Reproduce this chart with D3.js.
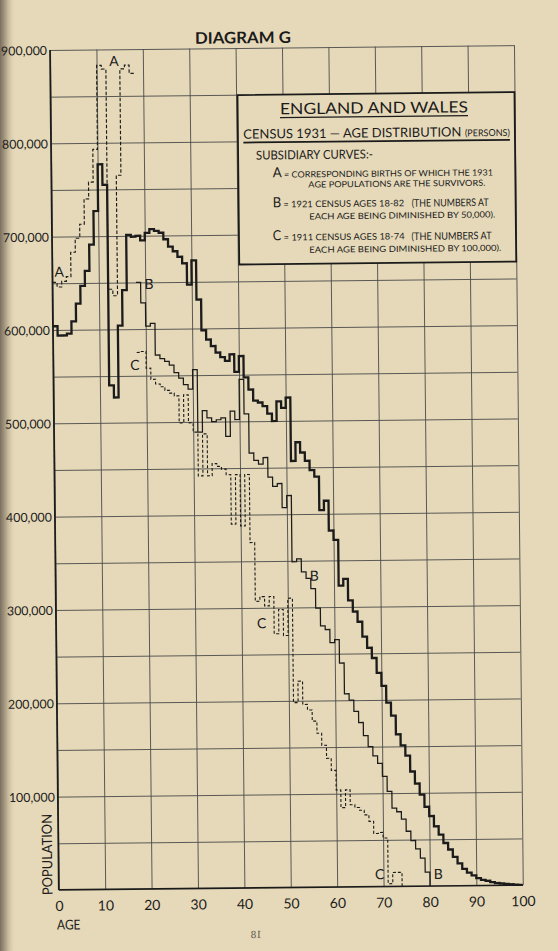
<!DOCTYPE html>
<html lang="en">
<head>
<meta charset="utf-8">
<title>Diagram G</title>
<script src="https://cdn.jsdelivr.net/npm/d3@7"></script>
<style>
  html, body { margin: 0; padding: 0; background: #e6d9b9; overflow: hidden; }
  #chart svg { display: block; }
  .lbl { font-family: Lato, 'DejaVu Sans', sans-serif; fill: #1b1b1b; }
</style>
</head>
<body>
<div id="chart"></div>
<script>
// England and Wales, census 1931, numbers at each age (thousands)
const pop1931Start = 0;
const pop1931 = [
  604, 594, 594, 596, 609, 628, 647, 663, 691, 727,
  777, 755, 540, 527, 604, 642, 701, 699, 700, 695,
  703, 707, 705, 703, 696, 688, 683, 677, 670, 647,
  673, 631, 598, 588, 581, 574, 569, 565, 572, 553,
  570, 547, 534, 522, 520, 516, 508, 500, 521, 514,
  525, 457, 477, 466, 457, 447, 440, 404, 414, 382,
  372, 323, 330, 307, 295, 284, 268, 256, 245, 229,
  215, 197, 183, 163, 151, 140, 123, 110, 98, 85,
  75, 64, 55, 46, 39, 31, 24, 18, 14, 11,
  8, 6, 5, 3.5, 2.5, 2, 1.5, 1, 0.6, 0.3
];

// A: corresponding births of which the 1931 age populations are the survivors
const birthsAStart = 0;
const birthsA = [651, 646, 652, 657, 683, 698, 713, 740, 758, 793, 883, 879, 643, 636, 765, 879, 883, 874];

// B: 1921 census ages 18-82, each age less 50,000
const census1921Start = 18;
const census1921B = [
  650, 628, 603, 606, 572, 568, 565, 561, 553, 547,
  540, 535, 556, 489, 512, 504, 500, 502, 504, 484,
  511, 502, 545, 508, 466, 458, 454, 461, 440, 430,
  433, 407, 420, 349, 352, 338, 331, 320, 299, 280,
  276, 262, 265, 240, 207, 200, 188, 176, 162, 150,
  140, 132, 118, 102, 84, 80, 72, 59, 49, 40,
  30, 15, 0
];

// C: 1911 census ages 18-74, each age less 100,000
const census1911Start = 18;
const census1911C = [
  575, 576, 558, 546, 541, 538, 534, 531, 528, 499,
  529, 499, 489, 442, 487, 442, 455, 452, 449, 443,
  390, 443, 388, 443, 370, 307, 312, 302, 312, 272,
  298, 270, 310, 198, 221, 196, 190, 178, 165, 152,
  138, 125, 104, 85, 104, 88, 85, 82, 77, 70,
  57, 58, 52, 3, 15, 15, 0
];

const xTicks = [0, 10, 20, 30, 40, 50, 60, 70, 80, 90, 100];
const yGrid = [50, 100, 150, 200, 250, 300, 350, 400, 450, 500, 550, 600, 650, 700, 750, 800, 850, 900];
const yLabels = [100, 200, 300, 400, 500, 600, 700, 800, 900];

const width = 558, height = 951;
const W = 464, H = 840;
const paper = '#e6d9b9';
const ink = '#1b1b1b';

const svg = d3.select('#chart').append('svg')
    .attr('width', width)
    .attr('height', height);

// paper and the dark book gutter on the left
const defs = svg.append('defs');
const gutter = defs.append('linearGradient').attr('id', 'gutter').attr('x1', 0).attr('x2', 1);
gutter.append('stop').attr('offset', 0).attr('stop-color', '#7a6f60');
gutter.append('stop').attr('offset', 0.4).attr('stop-color', '#b5a88d');
gutter.append('stop').attr('offset', 1).attr('stop-color', paper).attr('stop-opacity', 0);

svg.append('rect').attr('width', width).attr('height', height).attr('fill', paper);
svg.append('rect').attr('width', 16).attr('height', height).attr('fill', 'url(#gutter)');

// the printed page sits a little askew in the scan
const g = svg.append('g').attr('transform', 'translate(50,50) rotate(-0.6)');

const x = d3.scaleLinear().domain([0, 100]).range([0, W]);
const y = d3.scaleLinear().domain([0, 900]).range([H, 0]);
const fmt = d3.format(',');

// horizontal grid + population labels
const yAxis = d3.axisLeft(y)
    .tickValues(yGrid)
    .tickSize(-W)
    .tickPadding(3)
    .tickFormat(d => yLabels.includes(d) ? fmt(d * 1000) : '');

const yG = g.append('g').attr('class', 'y-axis').call(yAxis);
yG.select('.domain').remove();
yG.selectAll('line').attr('stroke', '#4a4a4a').attr('stroke-width', 0.9);
yG.selectAll('text')
    .attr('class', 'lbl')
    .attr('font-size', 12.4)
    .attr('dy', '0.36em')
    .attr('fill', ink);

// vertical grid + age labels
const xAxis = d3.axisBottom(x)
    .tickValues(xTicks)
    .tickSize(-H)
    .tickFormat(d => d);

const xG = g.append('g').attr('class', 'x-axis').attr('transform', `translate(0,${H})`).call(xAxis);
xG.select('.domain').remove();
xG.selectAll('line').attr('stroke', '#4a4a4a').attr('stroke-width', 0.9);
xG.selectAll('text')
    .attr('class', 'lbl')
    .attr('font-size', 14)
    .attr('y', 21)
    .attr('dy', null)
    .attr('fill', ink);

// axes proper
g.append('line')
    .attr('x1', x(0)).attr('x2', x(0))
    .attr('y1', y(900)).attr('y2', y(0))
    .attr('stroke', ink).attr('stroke-width', 1.7);
g.append('line')
    .attr('x1', x(0)).attr('x2', x(100))
    .attr('y1', y(0)).attr('y2', y(0))
    .attr('stroke', ink).attr('stroke-width', 1.7);

// step curves, one step per year of age
function steps(start, values) {
    const pts = values.map((v, i) => ({ age: start + i, v: v }));
    const last = values[values.length - 1];
    if (last > 0) pts.push({ age: start + values.length, v: last });
    return pts;
}

const stepLine = d3.line()
    .x(d => x(d.age))
    .y(d => y(Math.max(0, d.v)))
    .curve(d3.curveStepAfter);

const curves = [
    { id: 'A', data: steps(birthsAStart, birthsA), w: 1.15, dash: '3.5,2' },
    { id: 'C', data: steps(census1911Start, census1911C), w: 1.1, dash: '3,2' },
    { id: 'B', data: steps(census1921Start, census1921B), w: 1.25, dash: null },
    { id: '1931', data: steps(pop1931Start, pop1931), w: 2.3, dash: null }
];

g.selectAll('.curve')
    .data(curves)
    .enter()
    .append('path')
    .attr('class', 'curve')
    .attr('d', d => stepLine(d.data))
    .attr('fill', 'none')
    .attr('stroke', ink)
    .attr('stroke-width', d => d.w)
    .attr('stroke-dasharray', d => d.dash)
    .attr('stroke-linejoin', 'miter');

// curve letters
const curveLabels = [
    { t: 'A', x: 6.8, y: 226.8 }, { t: 'A', x: 63.8, y: 16.7 },
    { t: 'B', x: 96.5, y: 240 }, { t: 'B', x: 258.6, y: 533.5 }, { t: 'B', x: 379.6, y: 833 },
    { t: 'C', x: 81.6, y: 320.9 }, { t: 'C', x: 205.6, y: 580.5 }, { t: 'C', x: 321, y: 832.5 }
];
g.selectAll('.curve-label')
    .data(curveLabels)
    .enter()
    .append('text')
    .attr('class', 'lbl curve-label')
    .attr('x', d => d.x)
    .attr('y', d => d.y)
    .attr('text-anchor', 'middle')
    .attr('font-size', 14)
    .text(d => d.t);

// title and axis titles
g.append('text')
    .attr('class', 'lbl')
    .attr('x', 145).attr('y', -4.7)
    .attr('font-size', 16)
    .attr('font-weight', 700)
    .attr('textLength', 96)
    .attr('lengthAdjust', 'spacingAndGlyphs')
    .text('DIAGRAM G');

g.append('text')
    .attr('class', 'lbl')
    .attr('x', -2.2).attr('y', H + 39.6)
    .attr('font-size', 13.5)
    .attr('textLength', 23.5)
    .attr('lengthAdjust', 'spacingAndGlyphs')
    .text('AGE');

g.append('text')
    .attr('class', 'lbl')
    .attr('transform', `translate(-6.4,${H + 5}) rotate(-90)`)
    .attr('font-size', 14)
    .attr('textLength', 81)
    .attr('lengthAdjust', 'spacingAndGlyphs')
    .text('POPULATION');

// page number showing through from the back
g.append('text')
    .attr('transform', `translate(202.5,${H + 50}) scale(-1,1)`)
    .attr('font-family', "'Liberation Serif', serif")
    .attr('font-size', 11)
    .attr('fill', '#5a5347')
    .text('18');

// legend panel
const boxLeft = 187, boxTop = 47, boxBottom = 216.5;
g.append('rect')
    .attr('x', boxLeft).attr('y', boxTop)
    .attr('width', x(100) - boxLeft).attr('height', boxBottom - boxTop)
    .attr('fill', paper)
    .attr('stroke', ink)
    .attr('stroke-width', 1.8);

const legendRuns = [
    { t: 'ENGLAND AND WALES', x: 229.3, y: 66.7, s: 15.5, len: 188 },
    { t: 'CENSUS 1931 \u2014 AGE DISTRIBUTION', x: 192.4, y: 90.7, s: 13, len: 218 },
    { t: '(PERSONS)', x: 414, y: 90.7, s: 9.5, len: 45 },
    { t: 'SUBSIDIARY CURVES:-', x: 204.9, y: 111.8, s: 12.5, len: 117 },
    { t: 'A', x: 221.4, y: 129.5, s: 14, len: 9 },
    { t: '= CORRESPONDING BIRTHS OF WHICH THE 1931', x: 232.7, y: 130, s: 8.5, len: 209 },
    { t: 'AGE POPULATIONS ARE THE SURVIVORS.', x: 256.9, y: 140.3, s: 8.5, len: 177 },
    { t: 'B', x: 221, y: 159.5, s: 14, len: 8.5 },
    { t: '= 1921 CENSUS AGES 18-82', x: 231.6, y: 159.9, s: 9, len: 121 },
    { t: '(THE NUMBERS AT', x: 360, y: 160.5, s: 10.5, len: 77 },
    { t: 'EACH AGE BEING DIMINISHED BY 50,000).', x: 257.5, y: 172.1, s: 8.5, len: 186 },
    { t: 'C', x: 220.7, y: 192.5, s: 14, len: 8.5 },
    { t: '= 1911 CENSUS AGES 18-74', x: 231.6, y: 193, s: 9, len: 121 },
    { t: '(THE NUMBERS AT', x: 359.6, y: 193.8, s: 10.5, len: 80 },
    { t: 'EACH AGE BEING DIMINISHED BY 100,000).', x: 257.2, y: 205.5, s: 8.5, len: 192 }
];

g.selectAll('.legend-run')
    .data(legendRuns)
    .enter()
    .append('text')
    .attr('class', 'lbl legend-run')
    .attr('x', d => d.x)
    .attr('y', d => d.y)
    .attr('font-size', d => d.s)
    .attr('textLength', d => d.len)
    .attr('lengthAdjust', 'spacingAndGlyphs')
    .text(d => d.t);

// underlines in the panel heading
g.append('line')
    .attr('x1', 229.3).attr('x2', 417.3)
    .attr('y1', 70).attr('y2', 70)
    .attr('stroke', ink).attr('stroke-width', 1.3);
g.append('line')
    .attr('x1', 192.4).attr('x2', 459)
    .attr('y1', 94.6).attr('y2', 94.6)
    .attr('stroke', ink).attr('stroke-width', 1.8);
</script>
</body>
</html>
